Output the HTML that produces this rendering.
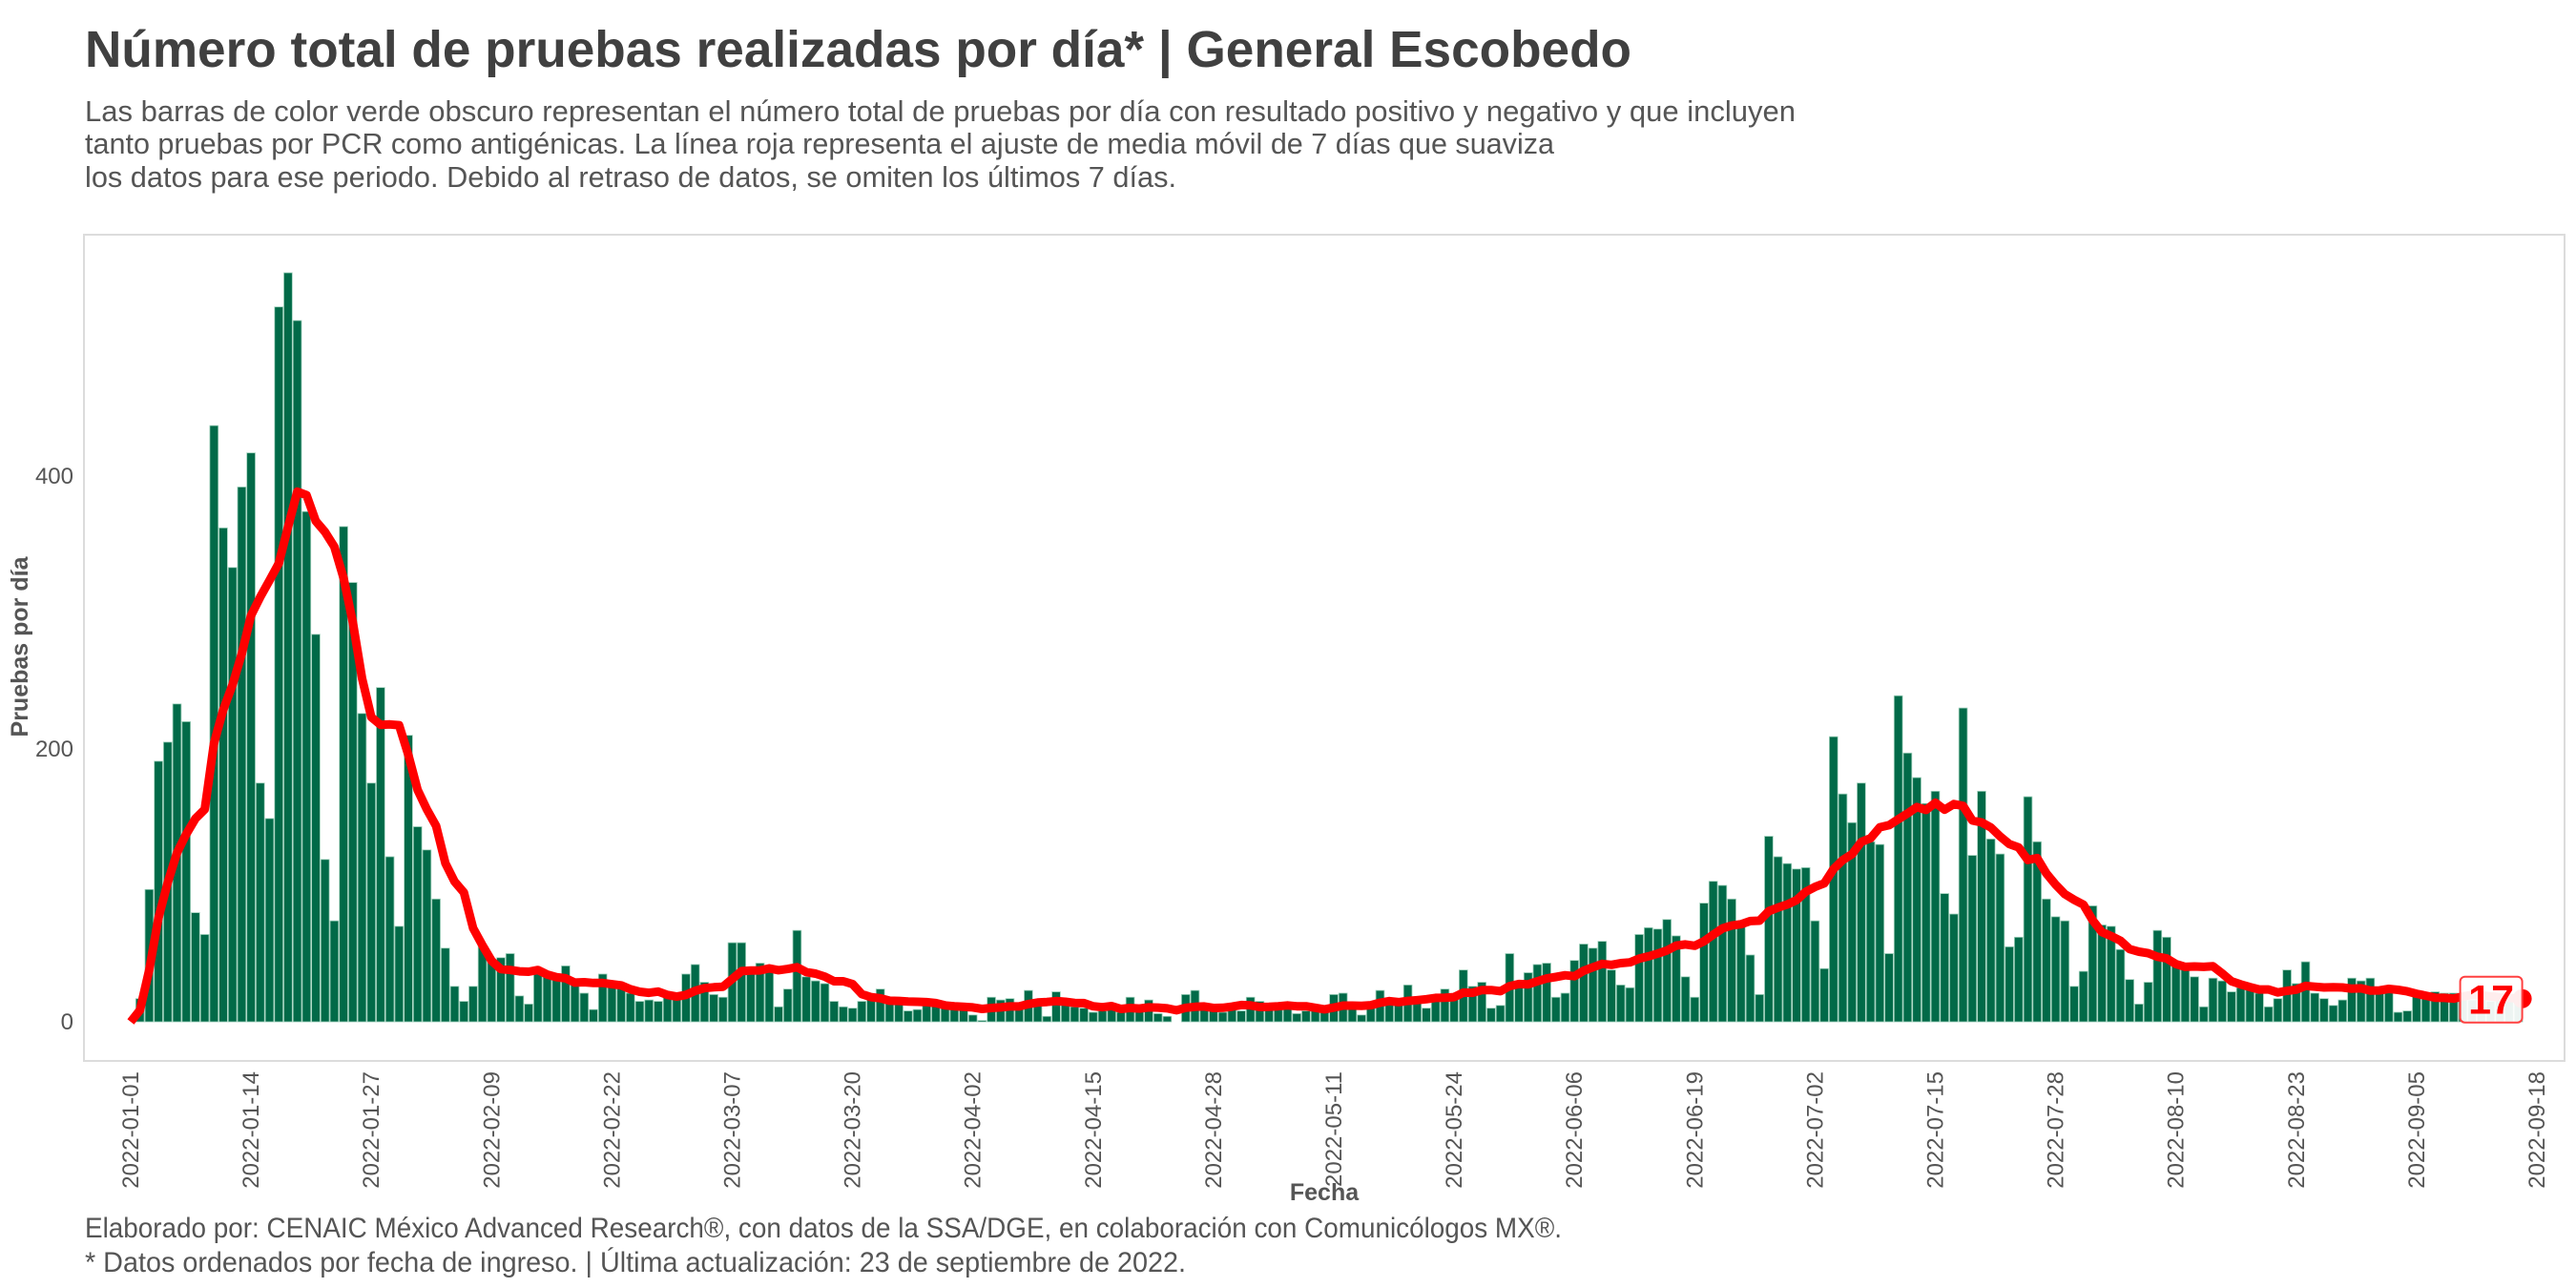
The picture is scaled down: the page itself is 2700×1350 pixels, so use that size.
<!DOCTYPE html>
<html><head><meta charset="utf-8"><style>
html,body{margin:0;padding:0;background:#fff;}
svg{display:block;font-family:"Liberation Sans",sans-serif;}
</style></head><body>
<svg id="chart" width="2700" height="1350" viewBox="0 0 2700 1350" xmlns="http://www.w3.org/2000/svg">
<rect x="0" y="0" width="2700" height="1350" fill="#fff"/>
<text x="89" y="70" font-size="54" font-weight="bold" fill="#404040" textLength="1621" lengthAdjust="spacingAndGlyphs">Número total de pruebas realizadas por día* | General Escobedo</text>
<g fill="#555" font-size="31">
<text x="89" y="127" textLength="1793" lengthAdjust="spacingAndGlyphs">Las barras de color verde obscuro representan el número total de pruebas por día con resultado positivo y negativo y que incluyen</text>
<text x="89" y="161" textLength="1540" lengthAdjust="spacingAndGlyphs">tanto pruebas por PCR como antigénicas. La línea roja representa el ajuste de media móvil de 7 días que suaviza</text>
<text x="89" y="196" textLength="1144" lengthAdjust="spacingAndGlyphs">los datos para ese periodo. Debido al retraso de datos, se omiten los últimos 7 días.</text>
</g>
<rect x="88" y="246" width="2600" height="866" fill="#fff" stroke="#dcdcdc" stroke-width="2"/>
<g id="bars"></g>
<g id="line"></g>
<g id="yaxis"></g>
<g id="xaxis"></g>
<g id="lastlabel"></g>
<text transform="translate(29,678) rotate(-90)" text-anchor="middle" font-size="25" font-weight="bold" fill="#555">Pruebas por día</text>
<text x="1388" y="1258" text-anchor="middle" font-size="25" font-weight="bold" fill="#555">Fecha</text>
<g fill="#555" font-size="30">
<text x="89" y="1297" textLength="1548" lengthAdjust="spacingAndGlyphs">Elaborado por: CENAIC México Advanced Research®, con datos de la SSA/DGE, en colaboración con Comunicólogos MX®.</text>
<text x="89" y="1333" textLength="1154" lengthAdjust="spacingAndGlyphs">* Datos ordenados por fecha de ingreso. | Última actualización: 23 de septiembre de 2022.</text>
</g>
</svg>
<script>
// daily tests from 2022-01-01 (day 0)
const dailyTests = [0,
17,97,191,205,233,220,80,64,437,362,333,392,417,175,149,524,549,514,374,284,119,74,363,322,226,175,245,121,70,210,143,126,90,54,26,15,26,56,46,47,50,19,13,
35,33,32,41,28,21,9,35,27,26,21,15,16,15,18,18,35,42,29,20,18,58,58,38,43,39,11,24,67,33,30,28,15,11,10,15,18,24,15,14,8,9,13,13,12,
11,11,5,1,18,16,17,11,23,13,4,22,13,11,10,7,8,10,7,18,8,16,6,4,0,20,23,10,8,7,10,8,18,15,11,11,11,6,8,10,7,20,21,
11,5,11,23,15,15,27,15,10,18,24,18,38,26,29,10,12,50,29,36,42,43,18,21,45,57,54,59,38,27,25,64,69,68,75,63,33,18,
87,103,100,90,
70,49,20,136,121,116,112,113,74,39,209,167,146,175,132,130,50,239,197,179,160,169,94,79,230,122,169,134,123,55,62,165,132,90,77,74,26,37,85,71,70,53,31,13,
29,67,62,41,39,33,11,32,30,22,25,25,21,11,17,38,28,44,21,17,12,16,32,30,32,22,25,7,8,20,20,22,21,21,
18,16,17,15,17,19,17];
const yTicks = [0,200,400];
const yTickLabels = ["0","200","400"];
const xTickDays = [0,13,26,39,52,65,78,91,104,117,130,143,156,169,182,195,208,221,234,247,260];
const xTickLabels = ["2022-01-01","2022-01-14","2022-01-27","2022-02-09","2022-02-22","2022-03-07","2022-03-20","2022-04-02","2022-04-15","2022-04-28","2022-05-11","2022-05-24","2022-06-06","2022-06-19","2022-07-02","2022-07-15","2022-07-28","2022-08-10","2022-08-23","2022-09-05","2022-09-18"];

const NS = "http://www.w3.org/2000/svg";
const X0 = 137, DX = 9.7, Y0 = 1071, KY = 1.43;
function xs(d){ return X0 + d*DX; }
function ys(v){ return Y0 - v*KY; }
function mk(tag, attrs){ const e = document.createElementNS(NS, tag); for (const k in attrs) e.setAttribute(k, attrs[k]); return e; }

const ma = dailyTests.map((v,i)=>{ const s = dailyTests.slice(Math.max(0,i-6), i+1); return s.reduce((a,b)=>a+b,0)/s.length; });

const gb = document.getElementById('bars');
dailyTests.forEach((v,i)=>{
  if (v<=0) return;
  const r = mk('rect', {x:(xs(i)-4.4).toFixed(2), y:ys(v).toFixed(2), width:8.8, height:(v*KY).toFixed(2), fill:'#016a48', stroke:'#9fd0bb', 'stroke-width':0.8});
  
  
  gb.appendChild(r);
});

const gl = document.getElementById('line');
const pts = ma.map((v,i)=> xs(i).toFixed(1)+','+ys(v).toFixed(1)).join(' ');
const pl = mk('polyline', {points:pts, fill:'none', stroke:'#ff0000', 'stroke-width':9, 'stroke-linejoin':'round'});


gl.appendChild(pl);

const gy = document.getElementById('yaxis');
yTicks.forEach((t,i)=>{
  const tx = mk('text', {x:77, y:(ys(t)+8).toFixed(1), 'text-anchor':'end', 'font-size':24, fill:'#555'});
  tx.textContent = yTickLabels[i];
  
  
  gy.appendChild(tx);
});

const gx = document.getElementById('xaxis');
xTickDays.forEach((d,i)=>{
  const x = xs(d) + 8;
  const tx = mk('text', {transform:'translate('+x.toFixed(1)+',1123) rotate(-90)', 'text-anchor':'end', 'font-size':24, fill:'#555'});
  tx.textContent = xTickLabels[i];
  
  
  gx.appendChild(tx);
});

const last = dailyTests.length-1;
const lv = ma[last];
const ll = document.getElementById('lastlabel');
const dot = mk('circle', {cx:(xs(last)+4).toFixed(1), cy:ys(lv).toFixed(1), r:10, fill:'#ff0000'});


ll.appendChild(dot);
const bx = xs(last) - 61, by = ys(lv) - 23;
const box = mk('rect', {x:bx.toFixed(1), y:by.toFixed(1), width:65, height:48, rx:5, fill:'#fff', 'fill-opacity':0.93, stroke:'#ff4040', 'stroke-width':2});


ll.appendChild(box);
const lt = mk('text', {x:(bx+32.5).toFixed(1), y:(by+39).toFixed(1), 'text-anchor':'middle', 'font-size':43, 'font-weight':'bold', fill:'#ff0000'});
lt.textContent = String(Math.round(lv));


ll.appendChild(lt);
</script>
</body></html>
